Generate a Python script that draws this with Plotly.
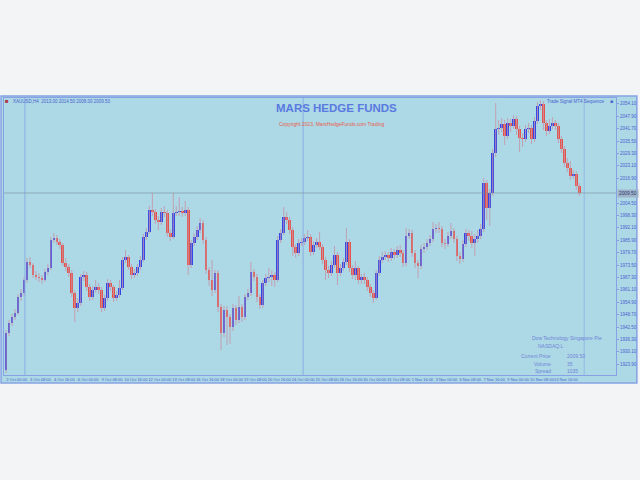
import plotly.graph_objects as go

# ---------------- data (XAUUSD, H4 candles) ----------------
opens = [1921.0, 1939.5, 1944.5, 1947.5, 1949.5, 1957.5, 1959.5, 1966.0, 1975.0, 1973.5,
         1968.5, 1967.5, 1967.0, 1966.0, 1970.0, 1972.0, 1986.0, 1987.0, 1985.0, 1983.5,
         1974.5, 1972.5, 1969.5, 1959.5, 1952.0, 1954.5, 1967.5, 1968.5, 1962.5, 1957.5,
         1961.0, 1962.5, 1961.0, 1952.0, 1957.0, 1964.5, 1962.5, 1957.0, 1958.5, 1962.0,
         1976.0, 1977.5, 1972.5, 1968.5, 1969.5, 1972.5, 1976.0, 1987.5, 1990.0, 2001.0,
         2000.0, 1996.0, 1995.0, 2000.0, 1999.5, 1989.5, 1987.5, 1999.5, 2000.0, 2000.5,
         1999.5, 2001.0, 1973.5, 1984.5, 1987.5, 1991.0, 1994.5, 1986.0, 1971.0, 1966.0,
         1961.0, 1969.5, 1952.5, 1939.5, 1951.0, 1947.5, 1942.5, 1952.0, 1946.0, 1952.5,
         1947.5, 1957.5, 1959.5, 1970.0, 1967.5, 1957.5, 1953.5, 1964.5, 1967.0, 1967.5,
         1968.5, 1966.0, 1986.0, 1989.5, 1997.5, 1996.0, 1991.0, 1982.5, 1979.5, 1984.5,
         1985.0, 1987.0, 1987.5, 1980.0, 1983.5, 1985.0, 1982.5, 1976.0, 1971.0, 1969.5,
         1973.5, 1978.5, 1969.5, 1972.0, 1975.0, 1985.0, 1972.0, 1968.5, 1972.0, 1966.0,
         1967.5, 1966.0, 1962.5, 1959.5, 1957.0, 1969.5, 1976.0, 1977.5, 1978.5, 1977.0,
         1980.0, 1978.5, 1981.0, 1979.5, 1974.5, 1988.0, 1989.5, 1979.5, 1974.5, 1973.0,
         1981.5, 1982.5, 1984.5, 1986.5, 1991.5, 1992.0, 1991.5, 1984.5, 1984.0, 1988.0,
         1990.5, 1986.5, 1978.0, 1976.5, 1984.0, 1989.5, 1988.0, 1984.5, 1986.5, 1988.0,
         1991.5, 2014.5, 2002.0, 2009.5, 2029.5, 2041.5, 2042.0, 2044.0, 2038.0, 2044.5,
         2043.0, 2046.5, 2041.5, 2037.0, 2036.5, 2041.5, 2042.0, 2036.5, 2045.5, 2053.0,
         2054.0, 2044.5, 2040.5, 2043.0, 2044.5, 2043.0, 2036.5, 2031.5, 2024.5, 2022.0,
         2018.0, 2019.0, 2013.0]

highs = [1941.0, 1946.0, 1949.0, 1951.5, 1959.0, 1961.5, 1967.5, 1977.0, 1977.5, 1974.5,
         1970.5, 1969.5, 1968.5, 1971.5, 1974.0, 1987.5, 1989.5, 1988.5, 1986.5, 1984.5,
         1977.0, 1974.0, 1971.0, 1961.0, 1957.0, 1969.0, 1970.5, 1970.0, 1964.0, 1963.0,
         1966.0, 1964.5, 1962.5, 1958.5, 1966.5, 1966.0, 1963.5, 1960.5, 1966.0, 1977.5,
         1981.0, 1978.5, 1974.0, 1971.5, 1974.0, 1978.0, 1989.0, 1992.0, 2003.0, 2009.5,
         2001.5, 1998.0, 2002.0, 2003.0, 2001.0, 1991.5, 2009.5, 2003.0, 2007.5, 2002.5,
         2005.5, 2002.5, 1986.0, 1989.5, 1993.0, 1997.0, 1996.0, 1987.5, 1972.5, 1976.0,
         1971.0, 1971.0, 1954.0, 1953.0, 1953.0, 1949.0, 1954.0, 1953.5, 1958.0, 1954.0,
         1959.0, 1961.5, 1975.0, 1971.5, 1969.0, 1959.0, 1966.0, 1969.0, 1972.0, 1971.0,
         1970.0, 1988.0, 1991.5, 2002.5, 2000.0, 1997.5, 1992.5, 1984.0, 1986.5, 1987.0,
         1989.0, 1991.0, 1989.0, 1985.5, 1987.0, 1990.0, 1984.0, 1977.5, 1973.0, 1975.5,
         1983.0, 1980.0, 1974.0, 1977.0, 1992.0, 1986.5, 1973.5, 1975.5, 1973.0, 1969.0,
         1969.5, 1967.5, 1964.0, 1961.0, 1971.0, 1978.0, 1980.0, 1980.5, 1980.0, 1982.0,
         1981.5, 1983.0, 1983.5, 1981.0, 1992.0, 1991.5, 1991.0, 1981.0, 1976.0, 1983.5,
         1984.5, 1986.5, 1988.5, 1995.0, 1994.0, 1995.0, 1993.0, 1986.5, 1990.0, 1994.5,
         1992.0, 1988.0, 1980.0, 1986.0, 1991.5, 1991.0, 1990.5, 1989.0, 1991.0, 1994.0,
         2017.0, 2016.0, 2011.5, 2031.5, 2054.5, 2046.0, 2047.0, 2046.0, 2047.0, 2046.5,
         2048.5, 2048.0, 2043.0, 2039.5, 2043.5, 2044.5, 2043.5, 2047.5, 2055.0, 2056.0,
         2055.5, 2046.0, 2046.5, 2047.5, 2046.0, 2044.5, 2038.0, 2033.0, 2027.0, 2025.5,
         2021.0, 2020.5, 2014.5]

lows = [1919.5, 1938.0, 1943.0, 1946.0, 1948.5, 1955.5, 1958.0, 1964.5, 1972.0, 1967.0,
        1966.0, 1965.0, 1964.0, 1965.0, 1968.5, 1971.0, 1984.5, 1983.5, 1981.5, 1973.0,
        1970.5, 1967.5, 1957.5, 1945.0, 1950.0, 1953.0, 1965.5, 1960.5, 1955.5, 1956.0,
        1959.5, 1959.0, 1950.0, 1950.5, 1955.5, 1960.5, 1955.0, 1955.5, 1957.0, 1961.0,
        1974.5, 1971.0, 1966.5, 1967.0, 1968.0, 1971.0, 1975.0, 1986.0, 1989.0, 1998.0,
        1994.0, 1991.0, 1993.5, 1997.5, 1987.5, 1985.5, 1986.5, 1998.0, 1998.0, 1997.5,
        1998.0, 1968.5, 1972.0, 1983.0, 1986.0, 1989.5, 1984.0, 1969.0, 1963.0, 1958.0,
        1959.5, 1950.0, 1931.0, 1937.5, 1933.5, 1934.0, 1940.5, 1943.5, 1944.5, 1945.0,
        1946.0, 1956.0, 1958.0, 1965.5, 1955.0, 1951.5, 1952.0, 1963.0, 1965.0, 1963.0,
        1962.5, 1965.0, 1984.5, 1988.5, 1994.0, 1989.0, 1978.0, 1977.0, 1978.0, 1983.0,
        1983.5, 1985.5, 1978.0, 1978.5, 1982.0, 1981.0, 1974.0, 1966.0, 1967.0, 1968.0,
        1972.0, 1963.5, 1968.0, 1970.5, 1973.5, 1970.0, 1966.5, 1966.0, 1964.0, 1964.0,
        1964.0, 1960.5, 1957.5, 1954.5, 1956.0, 1968.0, 1974.5, 1976.0, 1975.0, 1975.5,
        1976.5, 1977.0, 1977.5, 1972.5, 1973.0, 1986.5, 1977.5, 1972.0, 1967.0, 1971.5,
        1979.5, 1981.0, 1983.0, 1985.0, 1989.5, 1989.5, 1982.5, 1981.5, 1982.5, 1986.5,
        1984.5, 1975.5, 1974.0, 1975.0, 1982.5, 1985.5, 1982.0, 1978.0, 1984.5, 1986.5,
        1990.0, 1996.0, 1993.0, 2008.0, 2027.5, 2038.5, 2040.0, 2033.5, 2036.5, 2040.0,
        2041.5, 2038.5, 2030.0, 2032.5, 2035.0, 2039.5, 2034.0, 2035.0, 2044.0, 2051.0,
        2041.0, 2038.0, 2039.0, 2041.5, 2041.0, 2034.5, 2029.5, 2022.5, 2020.0, 2016.0,
        2016.5, 2011.0, 2008.0]

closes = [1939.5, 1944.5, 1947.5, 1949.5, 1957.5, 1959.5, 1966.0, 1975.0, 1973.5, 1968.5,
          1967.5, 1967.0, 1966.0, 1970.0, 1972.0, 1986.0, 1987.0, 1985.0, 1983.5, 1974.5,
          1972.5, 1969.5, 1959.5, 1952.0, 1954.5, 1967.5, 1968.5, 1962.5, 1957.5, 1961.0,
          1962.5, 1961.0, 1952.0, 1957.0, 1964.5, 1962.5, 1957.0, 1958.5, 1962.0, 1976.0,
          1977.5, 1972.5, 1968.5, 1969.5, 1972.5, 1976.0, 1987.5, 1990.0, 2001.0, 2000.0,
          1996.0, 1995.0, 2000.0, 1999.5, 1989.5, 1987.5, 1999.5, 2000.0, 2000.5, 1999.5,
          2001.0, 1973.5, 1984.5, 1987.5, 1991.0, 1994.5, 1986.0, 1971.0, 1966.0, 1961.0,
          1969.5, 1952.5, 1939.5, 1951.0, 1947.5, 1942.5, 1952.0, 1946.0, 1952.5, 1947.5,
          1957.5, 1959.5, 1970.0, 1967.5, 1957.5, 1953.5, 1964.5, 1967.0, 1967.5, 1968.5,
          1966.0, 1986.0, 1989.5, 1997.5, 1996.0, 1991.0, 1982.5, 1979.5, 1984.5, 1985.0,
          1987.0, 1987.5, 1980.0, 1983.5, 1985.0, 1982.5, 1976.0, 1971.0, 1969.5, 1973.5,
          1978.5, 1969.5, 1972.0, 1975.0, 1985.0, 1972.0, 1968.5, 1972.0, 1966.0, 1967.5,
          1966.0, 1962.5, 1959.5, 1957.0, 1969.5, 1976.0, 1977.5, 1978.5, 1977.0, 1980.0,
          1978.5, 1981.0, 1979.5, 1974.5, 1988.0, 1989.5, 1979.5, 1974.5, 1973.0, 1981.5,
          1982.5, 1984.5, 1986.5, 1991.5, 1992.0, 1991.5, 1984.5, 1984.0, 1988.0, 1990.5,
          1986.5, 1978.0, 1976.5, 1984.0, 1989.5, 1988.0, 1984.5, 1986.5, 1988.0, 1991.5,
          2014.5, 2002.0, 2009.5, 2029.5, 2041.5, 2042.0, 2044.0, 2038.0, 2044.5, 2043.0,
          2046.5, 2041.5, 2037.0, 2036.5, 2041.5, 2042.0, 2036.5, 2045.5, 2053.0, 2054.0,
          2044.5, 2040.5, 2043.0, 2044.5, 2043.0, 2036.5, 2031.5, 2024.5, 2022.0, 2018.0,
          2019.0, 2013.0, 2009.5]

time_labels = ["2 Oct 00:00", "3 Oct 08:00", "4 Oct 16:00", "6 Oct 00:00", "9 Oct 08:00",
               "10 Oct 16:00", "12 Oct 00:00", "13 Oct 08:00", "16 Oct 16:00", "18 Oct 00:00",
               "19 Oct 08:00", "20 Oct 16:00", "24 Oct 00:00", "25 Oct 08:00", "26 Oct 16:00",
               "30 Oct 00:00", "31 Oct 08:00", "1 Nov 16:00", "3 Nov 00:00", "6 Nov 08:00",
               "7 Nov 16:00", "9 Nov 00:00", "10 Nov 08:00", "13 Nov 16:00"]

symbol_text = "XAUUSD,H4  2013.00 2014.50 2008.00 2009.50"
corner_text = "Trade Signal MT4 Sequence"
title_text = "MARS HEDGE FUNDS"
subtitle_text = "Copyright 2023, MarsHedgeFunds.com Trading"
info_head = ["Dow Technology Singapore Pte", "NASDAQ:L"]
info_names = ["Current Price", "Volume", "Spread"]
info_values = ["2009.50", "35", "1035"]

# ---------------- styling ----------------
UP = "#3446e6"
DOWN = "#e4544a"
WICK = "rgba(196,150,170,0.85)"
PANEL = "#add8e6"
PAGE = "#f3f4f6"
EDGE = "#86a2e4"
FONT = "Liberation Sans, Arial, sans-serif"

W, H = 640, 480
L, R, T, B = 3, 21, 98, 105
PW, PH = W - L - R, H - T - B


def px(x):
    return (x - L) / PW


def py(y):
    return (H - B - y) / PH


n = len(closes)
idx = list(range(n))

wx, wy = [], []
for i in idx:
    wx += [i, i, None]
    wy += [lows[i], highs[i], None]

body_colors = [UP if c >= o else DOWN for o, c in zip(opens, closes)]

fig = go.Figure()
fig.add_trace(go.Scatter(x=wx, y=wy, mode="lines",
                         line=dict(color=WICK, width=1), hoverinfo="skip",
                         showlegend=False))
fig.add_trace(go.Bar(x=idx, base=opens,
                     y=[c - o for o, c in zip(opens, closes)],
                     width=0.9, marker=dict(color=body_colors, line=dict(width=0)),
                     showlegend=False))

last = closes[-1]
shapes = [
    dict(type="rect", xref="paper", yref="paper", x0=px(0), x1=px(640),
         y0=py(383), y1=py(96), fillcolor=PANEL, line=dict(color=EDGE, width=1.5),
         layer="below"),
    dict(type="line", xref="x", yref="paper", x0=6.3, x1=6.3, y0=0, y1=1,
         line=dict(color="rgba(130,165,225,0.55)", width=1.5)),
    dict(type="line", xref="x", yref="paper", x0=99.5, x1=99.5, y0=0, y1=1,
         line=dict(color="rgba(130,165,225,0.55)", width=1.5)),
    dict(type="line", xref="paper", yref="paper", x0=px(587), x1=px(587), y0=0, y1=1,
         line=dict(color="rgba(130,165,225,0.6)", width=1)),
    dict(type="line", xref="paper", yref="y", x0=0, x1=1, y0=last, y1=last,
         line=dict(color="rgba(120,135,150,0.55)", width=1)),
]

ann = [
    dict(text="<b>" + title_text + "</b>", x=px(338), y=py(108), xref="paper", yref="paper",
         showarrow=False, font=dict(family=FONT, size=11.5, color="#5a7ae0"),
         xanchor="center", yanchor="middle"),
    dict(text=subtitle_text, x=px(333), y=py(124), xref="paper", yref="paper",
         showarrow=False, font=dict(family=FONT, size=5, color="#e8604c"),
         xanchor="center", yanchor="middle"),
    dict(text=symbol_text, x=px(10), y=py(101), xref="paper", yref="paper",
         showarrow=False, font=dict(family=FONT, size=4.5, color="#4a62cf"),
         xanchor="left", yanchor="middle"),
    dict(text="\u25a0", x=px(2), y=py(101), xref="paper", yref="paper",
         showarrow=False, font=dict(family=FONT, size=6, color="#b03a48"),
         xanchor="left", yanchor="middle"),
    dict(text=corner_text, x=px(610), y=py(101), xref="paper", yref="paper",
         showarrow=False, font=dict(family=FONT, size=4.5, color="#4a62cf"),
         xanchor="right", yanchor="middle"),
    dict(text="\u25a0", x=px(611), y=py(101), xref="paper", yref="paper",
         showarrow=False, font=dict(family=FONT, size=5, color="#4a62cf"),
         xanchor="left", yanchor="middle"),
    dict(text=f"{last:.2f}", x=1.0, y=last, xref="paper", yref="y",
         showarrow=False, font=dict(family=FONT, size=4.8, color="#2a3570"),
         xanchor="left", yanchor="middle", xshift=1, bgcolor="#9fb4c8"),
    dict(text=info_head[0], x=px(570), y=py(338), xref="paper", yref="paper",
         showarrow=False, font=dict(family=FONT, size=5, color="#6f86d6"),
         xanchor="center", yanchor="middle"),
    dict(text=info_head[1], x=px(554), y=py(346), xref="paper", yref="paper",
         showarrow=False, font=dict(family=FONT, size=5, color="#6f86d6"),
         xanchor="center", yanchor="middle"),
]
for k, (nm, val) in enumerate(zip(info_names, info_values)):
    yy = 356 + 7.5 * k
    ann.append(dict(text=nm, x=px(556), y=py(yy), xref="paper", yref="paper",
                    showarrow=False, font=dict(family=FONT, size=5, color="#6f86d6"),
                    xanchor="right", yanchor="middle"))
    ann.append(dict(text=val, x=px(568), y=py(yy), xref="paper", yref="paper",
                    showarrow=False, font=dict(family=FONT, size=5, color="#6f86d6"),
                    xanchor="left", yanchor="middle"))

xtickvals = [3.5 + 8 * k for k in range(len(time_labels))]
ytickvals = [2004.5 + 6.2 * k for k in range(-13, 9)]
ytickvals = [v for v in ytickvals if abs(v - last) > 3.0]

fig.update_layout(
    width=W, height=H,
    margin=dict(l=L, r=R, t=T, b=B, pad=0),
    paper_bgcolor=PAGE, plot_bgcolor=PANEL,
    bargap=0, showlegend=False,
    shapes=shapes, annotations=ann,
    xaxis=dict(range=[-0.7, n - 1 + 12.3], tickvals=xtickvals, ticktext=time_labels,
               tickangle=0, tickfont=dict(family=FONT, size=4, color="#4a62cf"),
               showgrid=False, zeroline=False, showline=True, linecolor=EDGE,
               linewidth=1, mirror=True, ticks="", ticklen=0, fixedrange=True),
    yaxis=dict(range=[1918.5, 2057.0], side="right", tickvals=ytickvals,
               tickformat=".2f", tickfont=dict(family=FONT, size=4.5, color="#4a62cf"),
               showgrid=False, zeroline=False, showline=True, linecolor=EDGE,
               linewidth=1, mirror=True, ticks="outside", ticklen=2, tickcolor=EDGE,
               fixedrange=True),
    font=dict(family=FONT),
)

fig.write_html("out.html", config={"displayModeBar": False},
               post_script="document.body.style.margin='0px';"
                           "document.body.style.background='#f3f4f6';")
